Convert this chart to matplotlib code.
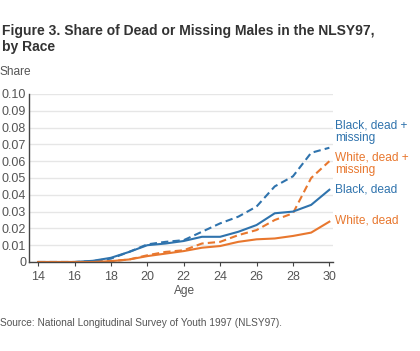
import matplotlib
matplotlib.use("Agg")
import matplotlib.pyplot as plt

plt.rcParams['font.family'] = ['Liberation Sans', 'DejaVu Sans']

ages = list(range(14, 31))
black_dead_missing = [0, 0, 0, 0.0005, 0.002, 0.006, 0.0105, 0.012, 0.013, 0.018,
                      0.023, 0.027, 0.033, 0.045, 0.051, 0.065, 0.068]
white_dead_missing = [0, 0, 0, 0, 0.0005, 0.0015, 0.004, 0.006, 0.007, 0.011,
                      0.012, 0.016, 0.019, 0.025, 0.029, 0.050, 0.060]
black_dead = [0, 0, 0, 0.0007, 0.0025, 0.006, 0.010, 0.011, 0.0125, 0.015,
              0.015, 0.018, 0.022, 0.029, 0.030, 0.034, 0.043]
white_dead = [0, 0, 0, 0, 0.0005, 0.0015, 0.0035, 0.005, 0.0065, 0.0085,
              0.0095, 0.012, 0.0135, 0.014, 0.0155, 0.0175, 0.024]

blue = '#2f73ad'
orange = '#e8772e'
grey_text = '#555555'

fig = plt.figure(figsize=(4.2, 3.51), dpi=100)
ax = fig.add_axes([29 / 420, 1 - 262 / 351, (333 - 29) / 420, (262 - 94) / 351])

ax.plot(ages, black_dead_missing, color=blue, lw=1.5, ls=(0, (3.5, 2)))
ax.plot(ages, white_dead_missing, color=orange, lw=1.5, ls=(0, (3.5, 2)))
ax.plot(ages, black_dead, color=blue, lw=1.5)
ax.plot(ages, white_dead, color=orange, lw=1.5)

ax.set_xlim(13.5, 30.2)
ax.set_ylim(0, 0.10)
ax.set_xticks(range(14, 31, 2))
yt = [i / 100 for i in range(11)]
ax.set_yticks(yt)
ax.set_yticklabels(['0'] + ['%.2f' % v for v in yt[1:]])
ax.yaxis.grid(True, color='#e6e6e6', lw=1)
ax.set_axisbelow(True)
for s in ['top', 'right']:
    ax.spines[s].set_visible(False)
for s in ['left', 'bottom']:
    ax.spines[s].set_color('#444444')
    ax.spines[s].set_linewidth(1)
ax.tick_params(axis='both', labelsize=9, colors='#444444', labelcolor=grey_text, length=3, width=0.8)
ax.tick_params(axis='y', length=0, pad=2)

# direct labels
lab = dict(fontsize=8.6, transform=ax.transData, va='center', ha='left')
ax.text(30.3, 0.0774, 'Black, dead +\nmissing', color=blue, linespacing=1.0, **lab)
ax.text(30.3, 0.0586, 'White, dead +\nmissing', color=orange, linespacing=1.0, **lab)
ax.text(30.3, 0.0429, 'Black, dead', color=blue, **lab)
ax.text(30.3, 0.0246, 'White, dead', color=orange, **lab)
for t in ax.texts:
    t.set_clip_on(False)

fig.text(0.005, 1 - 39 / 351, 'Figure 3. Share of Dead or Missing Males in the NLSY97,\nby Race',
         fontsize=10, fontweight='bold', color='#333333', va='center', linespacing=1.1)
fig.text(0.0, 1 - 72 / 351, 'Share', fontsize=8.6, color=grey_text, va='center')
fig.text(185 / 420, 1 - 291 / 351, 'Age', fontsize=8.6, color=grey_text, ha='center', va='center')
fig.text(0.0, 1 - 323 / 351, 'Source: National Longitudinal Survey of Youth 1997 (NLSY97).',
         fontsize=7.3, color=grey_text, va='center')

fig.savefig('out.png', dpi=100)
